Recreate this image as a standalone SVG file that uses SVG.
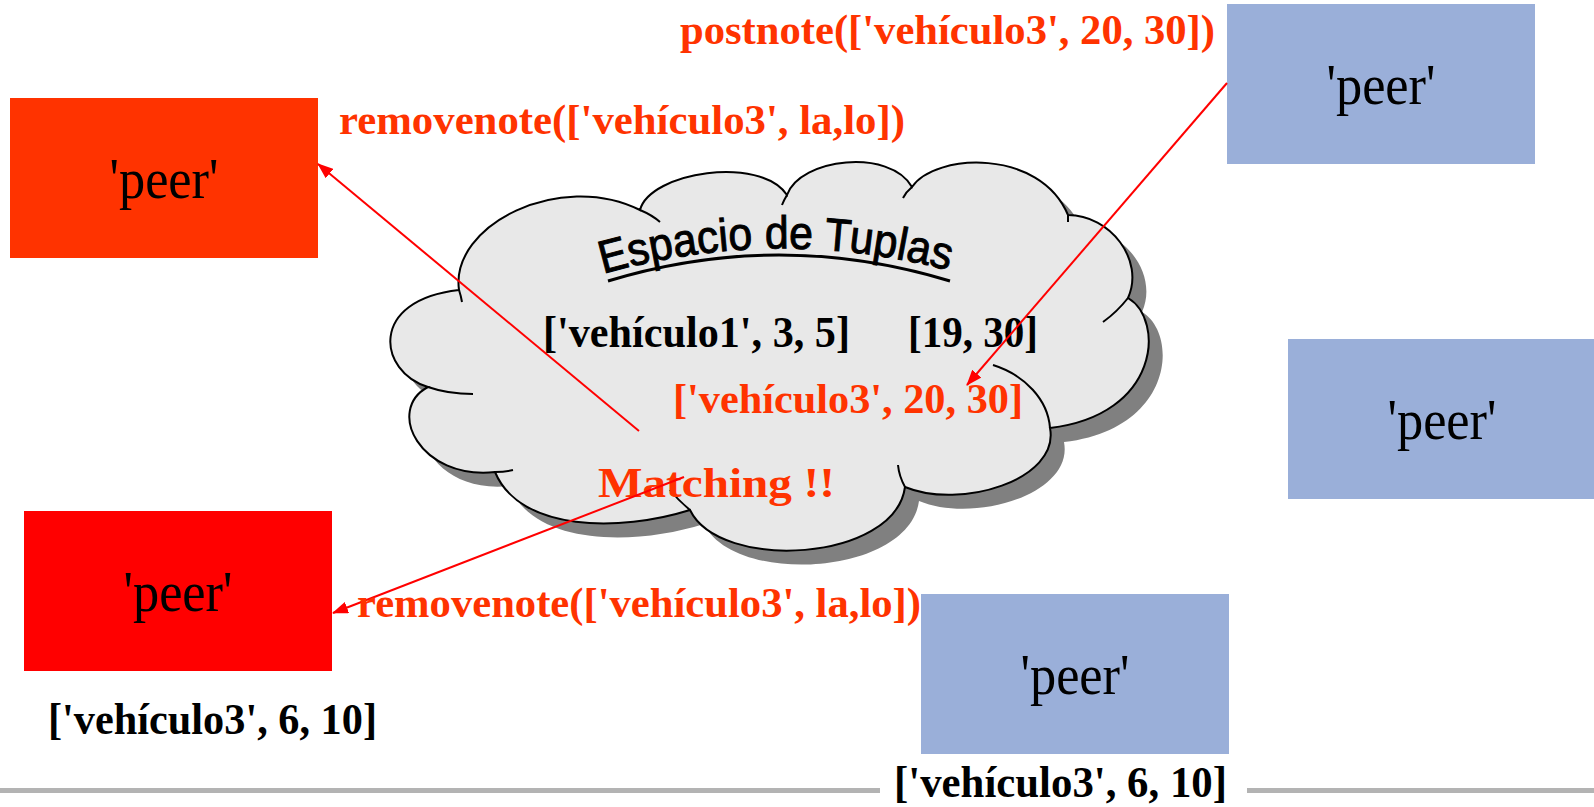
<svg xmlns="http://www.w3.org/2000/svg" width="1594" height="807" viewBox="0 0 1594 807">
<style>
.peer{font-family:"Liberation Serif","Times New Roman",serif;font-size:58px;fill:#000;text-anchor:middle}
.tb{font-family:"Liberation Serif","Times New Roman",serif;font-weight:bold;font-size:44px;fill:#000}
.tr{font-family:"Liberation Serif","Times New Roman",serif;font-weight:bold;font-size:42px;fill:#ff3300}
.blue{fill:#9aafd9}
.conn{stroke:#ff0000;stroke-width:2;fill:none}
.stub{stroke:#000;stroke-width:2;fill:none}
</style>
<defs>
<marker id="ah" markerWidth="16" markerHeight="12" refX="15" refY="6" orient="auto" markerUnits="userSpaceOnUse">
<path d="M0,0 L16,6 L0,12 Z" fill="#ff0000"/>
</marker>
<path id="cloudPath" d="M428,387 C378,372 368,300 459,290 C450,225 560,170 640,210 C650,172 760,155 787,195 C800,158 890,148 912,187 C935,153 1040,148 1068,215 C1110,215 1145,260 1128,298 C1165,320 1160,415 1050,428 C1060,480 960,510 905,487 C895,562 720,572 690,510 C620,532 520,532 495,472 C420,480 385,410 428,387 Z"/>
<path id="arcText" d="M603,274 Q779,224 954,272"/>
</defs>
<rect width="1594" height="807" fill="#ffffff"/>

<g id="cloud">
<use href="#cloudPath" fill="#808080" transform="translate(14,14)"/>
<use href="#cloudPath" fill="#e8e8e8" stroke="#000" stroke-width="2"/>
<path class="stub" d="M428,387 Q448,394 473,394"/>
<path class="stub" d="M459,290 Q461,296 462,302"/>
<path class="stub" d="M640,210 Q652,215 660,222"/>
<path class="stub" d="M787,195 Q784,200 782,205"/>
<path class="stub" d="M912,187 Q906,192 903,198"/>
<path class="stub" d="M1068,215 L1068,222"/>
<path class="stub" d="M1128,298 Q1117,312 1103,322"/>
<path class="stub" d="M993,365 C1025,375 1048,400 1050,428"/>
<path class="stub" d="M905,487 Q899,476 898,465"/>
<path class="stub" d="M690,510 Q678,500 670,490"/>
<path class="stub" d="M495,472 Q505,472 513,470"/>
<text font-family="'Liberation Sans',Arial,sans-serif" font-size="46" fill="#000" stroke="#000" stroke-width="1"><textPath href="#arcText" textLength="350" lengthAdjust="spacingAndGlyphs">Espacio de Tuplas</textPath></text>
<path d="M608,281 Q779,229 950,281" stroke="#000" stroke-width="3" fill="none"/>
<text class="tb" x="543" y="347" textLength="307" lengthAdjust="spacingAndGlyphs">['vehículo1', 3, 5]</text>
<text class="tb" x="908" y="347" textLength="130" lengthAdjust="spacingAndGlyphs">[19, 30]</text>
<text class="tr" x="673" y="413" font-size="44" textLength="350" lengthAdjust="spacingAndGlyphs">['vehículo3', 20, 30]</text>
<text class="tr" x="598" y="497" font-size="50" textLength="237" lengthAdjust="spacingAndGlyphs">Matching !!</text>
</g>

<g id="peer-topleft">
<rect x="10" y="98" width="308" height="160" fill="#ff3300"/>
<text class="peer" x="164" y="198" textLength="109" lengthAdjust="spacingAndGlyphs">'peer'</text>
</g>
<g id="peer-bottomleft">
<rect x="24" y="511" width="308" height="160" fill="#ff0000"/>
<text class="peer" x="178" y="611" textLength="109" lengthAdjust="spacingAndGlyphs">'peer'</text>
<text class="tb" x="48" y="734" textLength="329" lengthAdjust="spacingAndGlyphs">['vehículo3', 6, 10]</text>
</g>
<g id="peer-topright">
<rect class="blue" x="1227" y="4" width="308" height="160"/>
<text class="peer" x="1381" y="104" textLength="109" lengthAdjust="spacingAndGlyphs">'peer'</text>
</g>
<g id="peer-midright">
<rect class="blue" x="1288" y="339" width="308" height="160"/>
<text class="peer" x="1442" y="439" textLength="109" lengthAdjust="spacingAndGlyphs">'peer'</text>
</g>
<g id="peer-bottom">
<rect class="blue" x="921" y="594" width="308" height="160"/>
<text class="peer" x="1075" y="694" textLength="109" lengthAdjust="spacingAndGlyphs">'peer'</text>
</g>

<g id="connectors">
<line class="conn" x1="639" y1="431" x2="318" y2="164" marker-end="url(#ah)"/>
<line class="conn" x1="684" y1="477" x2="333" y2="613" marker-end="url(#ah)"/>
<line class="conn" x1="1227" y1="83" x2="967" y2="385" marker-end="url(#ah)"/>
</g>

<g id="labels">
<text class="tr" x="680" y="44" textLength="535" lengthAdjust="spacingAndGlyphs">postnote(['vehículo3', 20, 30])</text>
<text class="tr" x="339" y="134" textLength="566" lengthAdjust="spacingAndGlyphs">removenote(['vehículo3', la,lo])</text>
<text class="tr" x="357" y="617" textLength="564" lengthAdjust="spacingAndGlyphs">removenote(['vehículo3', la,lo])</text>
</g>

<g id="footer">
<rect x="0" y="788" width="880" height="5" fill="#b3b3b3"/>
<rect x="1247" y="788" width="347" height="5" fill="#b3b3b3"/>
<text class="tb" x="894" y="797" textLength="333" lengthAdjust="spacingAndGlyphs">['vehículo3', 6, 10]</text>
</g>
</svg>
